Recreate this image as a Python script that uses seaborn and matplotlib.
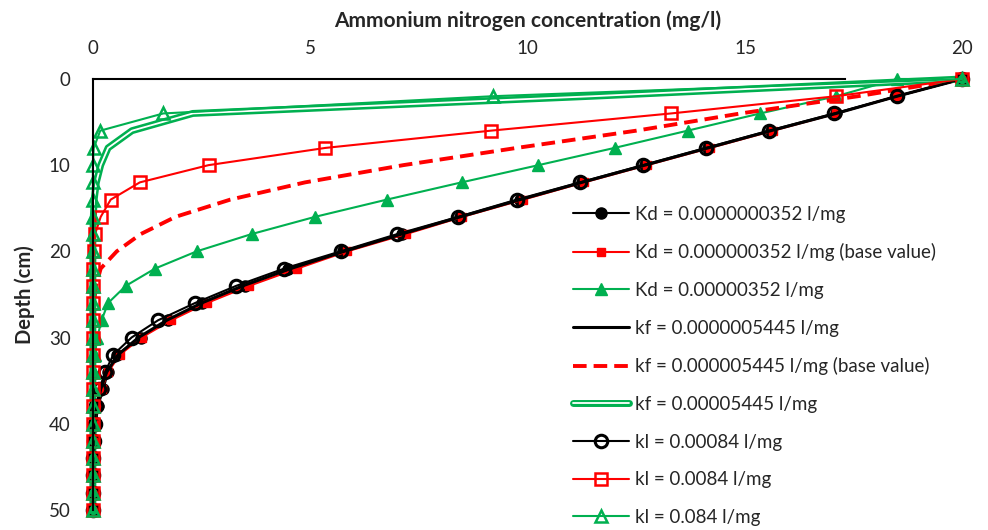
import numpy as np
import pandas as pd
import seaborn as sns
import matplotlib.pyplot as plt
import matplotlib.patheffects as pe

# === 1. Data ===
depth = list(range(0, 52, 2))  # cm

kd_low = [20, 18.5, 17.1, 15.6, 14.15, 12.7, 11.25, 9.83, 8.45, 7.1, 5.76, 4.5, 3.5,
          2.5, 1.73, 1.1, 0.55, 0.35, 0.24, 0.12, 0.07, 0.04, 0.02, 0.01, 0, 0]
kd_base = [20, 18.5, 17.1, 15.65, 14.2, 12.75, 11.3, 9.9, 8.5, 7.2, 5.85, 4.7, 3.6,
           2.62, 1.8, 1.12, 0.62, 0.35, 0.2, 0.1, 0.05, 0.02, 0.01, 0, 0, 0]
kd_high_depth = [0] + depth
kd_high = [20, 18.5, 17.1, 15.35, 13.68, 12.0, 10.25, 8.48, 6.76, 5.11, 3.65, 2.39, 1.43,
           0.76, 0.35, 0.2, 0.1, 0.05, 0.02, 0.01, 0, 0, 0, 0, 0, 0, 0]
kf_low = [20, 18.5, 17.1, 15.6, 14.15, 12.7, 11.25, 9.83, 8.45, 7.1, 5.78, 4.55, 3.45,
          2.5, 1.7, 1.05, 0.58, 0.32, 0.18, 0.1, 0.05, 0.02, 0.01, 0, 0, 0]
kf_base = [20, 17.6, 14.9, 12.5, 9.75, 7.14, 4.88, 3.16, 1.9, 1.1, 0.55, 0.18, 0.07,
           0.03, 0.01, 0, 0, 0, 0, 0, 0, 0, 0, 0, 0, 0]
kf_high = [20, 11.5, 2.3, 0.9, 0.35, 0.18, 0.08, 0.03, 0.01, 0, 0, 0, 0,
           0, 0, 0, 0, 0, 0, 0, 0, 0, 0, 0, 0, 0]
kl_low = [20, 18.5, 17.05, 15.55, 14.1, 12.65, 11.2, 9.75, 8.4, 7.0, 5.7, 4.4, 3.3,
          2.35, 1.5, 0.89, 0.47, 0.28, 0.15, 0.08, 0.04, 0.02, 0.01, 0, 0, 0]
kl_mid = [20, 17.1, 13.3, 9.15, 5.35, 2.66, 1.08, 0.41, 0.18, 0.05, 0.02, 0.01, 0,
          0, 0, 0, 0, 0, 0, 0, 0, 0, 0, 0, 0, 0]
kl_high = [20, 9.2, 1.62, 0.17, 0.02, 0, 0, 0, 0, 0, 0, 0, 0,
           0, 0, 0, 0, 0, 0, 0, 0, 0, 0, 0, 0, 0]

labels = [
    "Kd = 0.0000000352 l/mg",
    "Kd = 0.000000352 l/mg (base value)",
    "Kd = 0.00000352 l/mg",
    "kf = 0.0000005445 l/mg",
    "kf = 0.000005445 l/mg (base value)",
    "kf = 0.00005445 l/mg",
    "kl = 0.00084 l/mg",
    "kl = 0.0084 l/mg",
    "kl = 0.084 l/mg",
]

BLACK, RED, GREEN = "#000000", "#FF0000", "#00B050"

# === 2. Style ===
sns.set_style("white")
plt.rcParams["font.family"] = ["Lato", "DejaVu Sans"]

fig = plt.figure(figsize=(9.88, 5.30), dpi=100)
ax = fig.add_axes([0.094, 0.038, 0.880, 0.813])

# === 3. Plot series ===
def draw(x, y, label, color, **kw):
    kw.setdefault("markeredgecolor", color)
    kw.setdefault("markeredgewidth", 1.0)
    sns.lineplot(x=x, y=y, ax=ax, sort=False, estimator=None, color=color,
                 label=label, clip_on=False, **kw)

draw(kd_low, depth, labels[0], BLACK, marker="o", markersize=8, linewidth=1.5)
draw(kd_base, depth, labels[1], RED, marker="s", markersize=6, linewidth=1.5)
draw(kd_high, kd_high_depth, labels[2], GREEN, marker="^", markersize=8, linewidth=1.5)
draw(kf_low, depth, labels[3], BLACK, linewidth=2.2)
draw(kf_base, depth, labels[4], RED, linewidth=2.8, linestyle=(0, (3.5, 1.8)))
draw(kf_high, depth, labels[5], "white", linewidth=1.3,
     path_effects=[pe.Stroke(linewidth=5, foreground=GREEN), pe.Normal()])
draw(kl_low, depth, labels[6], BLACK, marker="o", markersize=9, linewidth=1.5,
     markerfacecolor="none", markeredgewidth=2.2)
draw(kl_mid, depth, labels[7], RED, marker="s", markersize=9, linewidth=1.5,
     markerfacecolor="none", markeredgewidth=1.8)
draw(kl_high, depth, labels[8], GREEN, marker="^", markersize=9, linewidth=1.5,
     markerfacecolor="none", markeredgewidth=1.8)

# === 4. Axes ===
ax.set_xlim(0, 20)
ax.set_ylim(50, 0)
ax.set_xticks([0, 5, 10, 15, 20])
ax.set_yticks([0, 10, 20, 30, 40, 50])
ax.xaxis.tick_top()
ax.xaxis.set_label_position("top")
ax.tick_params(axis="both", length=0, labelsize=13.5)
ax.tick_params(axis="x", pad=16)
ax.tick_params(axis="y", pad=16)
ax.set_xlabel("Ammonium nitrogen concentration (mg/l)", fontsize=15, fontweight="bold", labelpad=9)
ax.set_ylabel("Depth (cm)", fontsize=14.5, fontweight="bold", labelpad=10)

for side in ["right", "bottom"]:
    ax.spines[side].set_visible(False)
ax.spines["top"].set_color("black")
ax.spines["left"].set_color("black")
ax.spines["top"].set_linewidth(1.5)
ax.spines["left"].set_linewidth(1.5)
ax.spines["top"].set_bounds(0, 17.3)

handles, labs = ax.get_legend_handles_labels()
ax.legend(handles, labs, loc="upper left", bbox_to_anchor=(0.580, 0.612),
          bbox_transform=fig.transFigure, frameon=False, fontsize=13.5,
          handlelength=3.0, handletextpad=0.3, labelspacing=1.1,
          borderaxespad=0, borderpad=0)

plt.savefig("out.png", dpi=100)
